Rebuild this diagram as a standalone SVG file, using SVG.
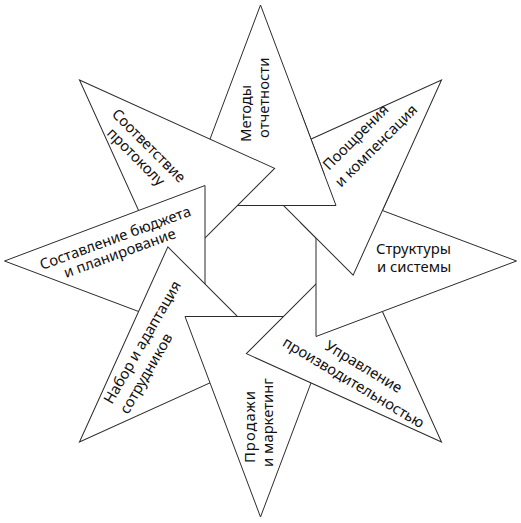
<svg xmlns="http://www.w3.org/2000/svg" xmlns:xlink="http://www.w3.org/1999/xlink" width="521" height="523" viewBox="0 0 521 523">
<style>
.tri{fill:#fff;stroke:#2b2b2b;stroke-width:1;stroke-linejoin:miter}
.t{font-family:"Noto Sans","Open Sans","DejaVu Sans",sans-serif;font-size:14.8px;fill:#111}
.m{text-anchor:middle}
</style>
<defs>
<polygon id="tri" class="tri" points="0,-256 75.5,-55.5 -75.5,-55.5"/>
<clipPath id="clipRewards" clipPathUnits="userSpaceOnUse"><rect x="300" y="175" width="221" height="200"/></clipPath>
<clipPath id="clipReporting" clipPathUnits="userSpaceOnUse"><rect x="300" y="0" width="221" height="260"/></clipPath>
</defs>
<rect width="521" height="523" fill="#fff"/>
<g id="n-rewards">
<use xlink:href="#tri" href="#tri" transform="translate(260.5,261) rotate(45)"/>
<text class="t" transform="translate(329,171) rotate(-45)">Поощрения</text>
<text class="t" transform="translate(341,188) rotate(-45)">и компенсация</text>
</g>
<g id="n-reporting">
<use xlink:href="#tri" href="#tri" transform="translate(260.5,261)"/>
<text class="t" transform="translate(251,142) rotate(-90)">Методы</text>
<text class="t" transform="translate(269,138) rotate(-90)">отчетности</text>
</g>
<g id="n-compliance">
<use xlink:href="#tri" href="#tri" transform="translate(260.5,261) rotate(-45)"/>
<text class="t" transform="translate(111,115) rotate(45)">Соответствие</text>
<text class="t" transform="translate(106,134) rotate(45)">протоколу</text>
</g>
<g id="n-budget">
<use xlink:href="#tri" href="#tri" transform="translate(260.5,261) rotate(-90)"/>
<text class="t" transform="translate(42,270) rotate(-20)">Составление бюджета</text>
<text class="t" transform="translate(66,278) rotate(-20)">и планирование</text>
</g>
<g id="n-hiring">
<use xlink:href="#tri" href="#tri" transform="translate(260.5,261) rotate(-135)"/>
<text class="t" transform="translate(112,405) rotate(-60)">Набор и адаптация</text>
<text class="t" transform="translate(128,415) rotate(-60)">сотрудников</text>
</g>
<g id="n-sales">
<use xlink:href="#tri" href="#tri" transform="translate(260.5,261) rotate(180)"/>
<text class="t" transform="translate(255,463) rotate(-90)" textLength="72" lengthAdjust="spacing">Продажи</text>
<text class="t" transform="translate(273,467) rotate(-90)">и маркетинг</text>
</g>
<g id="n-performance">
<use xlink:href="#tri" href="#tri" transform="translate(260.5,261) rotate(135)"/>
<text class="t m" transform="translate(361,371) rotate(31)">Управление</text>
<text class="t m" transform="translate(351,387) rotate(31)">производительностью</text>
</g>
<g id="n-structures">
<use xlink:href="#tri" href="#tri" transform="translate(260.5,261) rotate(90)"/>
<text class="t" x="376" y="254">Структуры</text>
<text class="t" x="377" y="272">и системы</text>
</g>
<g id="pinwheel-overlap">
<use xlink:href="#n-rewards" href="#n-rewards" clip-path="url(#clipRewards)"/>
<use xlink:href="#n-reporting" href="#n-reporting" clip-path="url(#clipReporting)"/>
</g>
<g id="connectors"/>
</svg>
